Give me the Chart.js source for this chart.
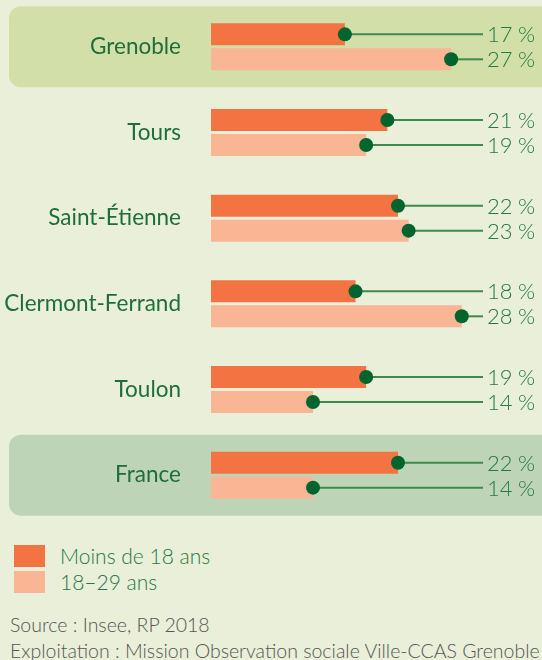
<!DOCTYPE html>
<html>
<head>
<meta charset="utf-8">
<script src="https://cdn.jsdelivr.net/npm/chart.js@4.4.1/dist/chart.umd.min.js"></script>
<style>
  html, body { margin: 0; padding: 0; background: #e9efd8; }
  body { width: 542px; height: 660px; position: relative; overflow: hidden; font-family: Lato, sans-serif; }
  #chart { position: absolute; left: 0; top: 0; }
  .leg { position: absolute; left: 14px; width: 31px; height: 22px; }
  .legtxt { position: absolute; left: 60px; font-size: 21px; font-weight: 300; color: #237a43; line-height: 22px; }
  .src { position: absolute; left: 10px; font-size: 19.5px; color: #555; font-weight: 300; line-height: 20px; white-space: nowrap; }
</style>
</head>
<body>
<canvas id="chart" width="542" height="522"></canvas>
<div class="leg" style="top:545px;background:#f47342"></div>
<div class="legtxt" style="top:545px">Moins de 18 ans</div>
<div class="leg" style="top:571px;background:#f9b594"></div>
<div class="legtxt" style="top:571px">18–29 ans</div>
<div class="src" style="top:615px">Source : Insee, RP 2018</div>
<div class="src" style="top:641px">Exploitation : Mission Observation sociale Ville-CCAS Grenoble</div>
<script>
var villes = ['Grenoble', 'Tours', 'Saint-Étienne', 'Clermont-Ferrand', 'Toulon', 'France'];
var moins18 = [17, 21, 22, 18, 19, 22];
var de18a29 = [27, 19, 23, 28, 14, 14];
var encadres = {0: '#d3dfa9', 5: '#bdd5b6'};

// fonds arrondis derrière Grenoble et France
var panels = {
  id: 'panels',
  beforeDraw: function(chart) {
    var ctx = chart.ctx, y = chart.scales.y;
    Object.keys(encadres).forEach(function(k) {
      var cy = y.getPixelForValue(Number(k));
      ctx.save();
      ctx.fillStyle = encadres[k];
      ctx.beginPath();
      ctx.roundRect(9, cy - 40.5, 560, 81, 12);
      ctx.fill();
      ctx.restore();
    });
  }
};

// trait + point + valeur
var leaders = {
  id: 'leaders',
  afterDatasetsDraw: function(chart) {
    var ctx = chart.ctx, right = chart.chartArea.right;
    chart.data.datasets.forEach(function(ds, d) {
      var meta = chart.getDatasetMeta(d);
      meta.data.forEach(function(bar, i) {
        ctx.save();
        ctx.strokeStyle = '#3d8a4e';
        ctx.lineWidth = 2;
        ctx.beginPath();
        ctx.moveTo(bar.x, bar.y);
        ctx.lineTo(right, bar.y);
        ctx.stroke();
        ctx.fillStyle = '#00642e';
        ctx.beginPath();
        ctx.arc(bar.x, bar.y, 7, 0, Math.PI * 2);
        ctx.fill();
        ctx.fillStyle = '#237a43';
        ctx.font = '300 22px Lato';
        ctx.textBaseline = 'middle';
        ctx.textAlign = 'left';
        ctx.fillText(ds.data[i] + '\u202f%', right + 4, bar.y + 1);
        ctx.restore();
      });
    });
  }
};

new Chart(document.getElementById('chart'), {
  type: 'bar',
  data: {
    labels: villes,
    datasets: [
      { label: 'Moins de 18 ans', data: moins18, backgroundColor: '#f47342' },
      { label: '18–29 ans', data: de18a29, backgroundColor: '#f9b594' }
    ]
  },
  options: {
    indexAxis: 'y',
    responsive: false,
    animation: false,
    categoryPercentage: 0.583,
    barPercentage: 0.88,
    layout: { padding: { top: 4, bottom: 4, right: 59, left: 0 } },
    plugins: { legend: { display: false }, tooltip: { enabled: false } },
    scales: {
      x: { display: false, min: 4.4, max: 30, beginAtZero: false },
      y: {
        grid: { display: false, drawTicks: false },
        border: { display: false },
        afterFit: function(scale) {
          scale.width = 211;
          scale.paddingTop = 0;
          scale.paddingBottom = 0;
        },
        ticks: {
          padding: 30,
          color: '#1f6e3a',
          font: { family: 'Lato', size: 22.5 }
        }
      }
    }
  },
  plugins: [panels, leaders]
});
</script>
</body>
</html>
